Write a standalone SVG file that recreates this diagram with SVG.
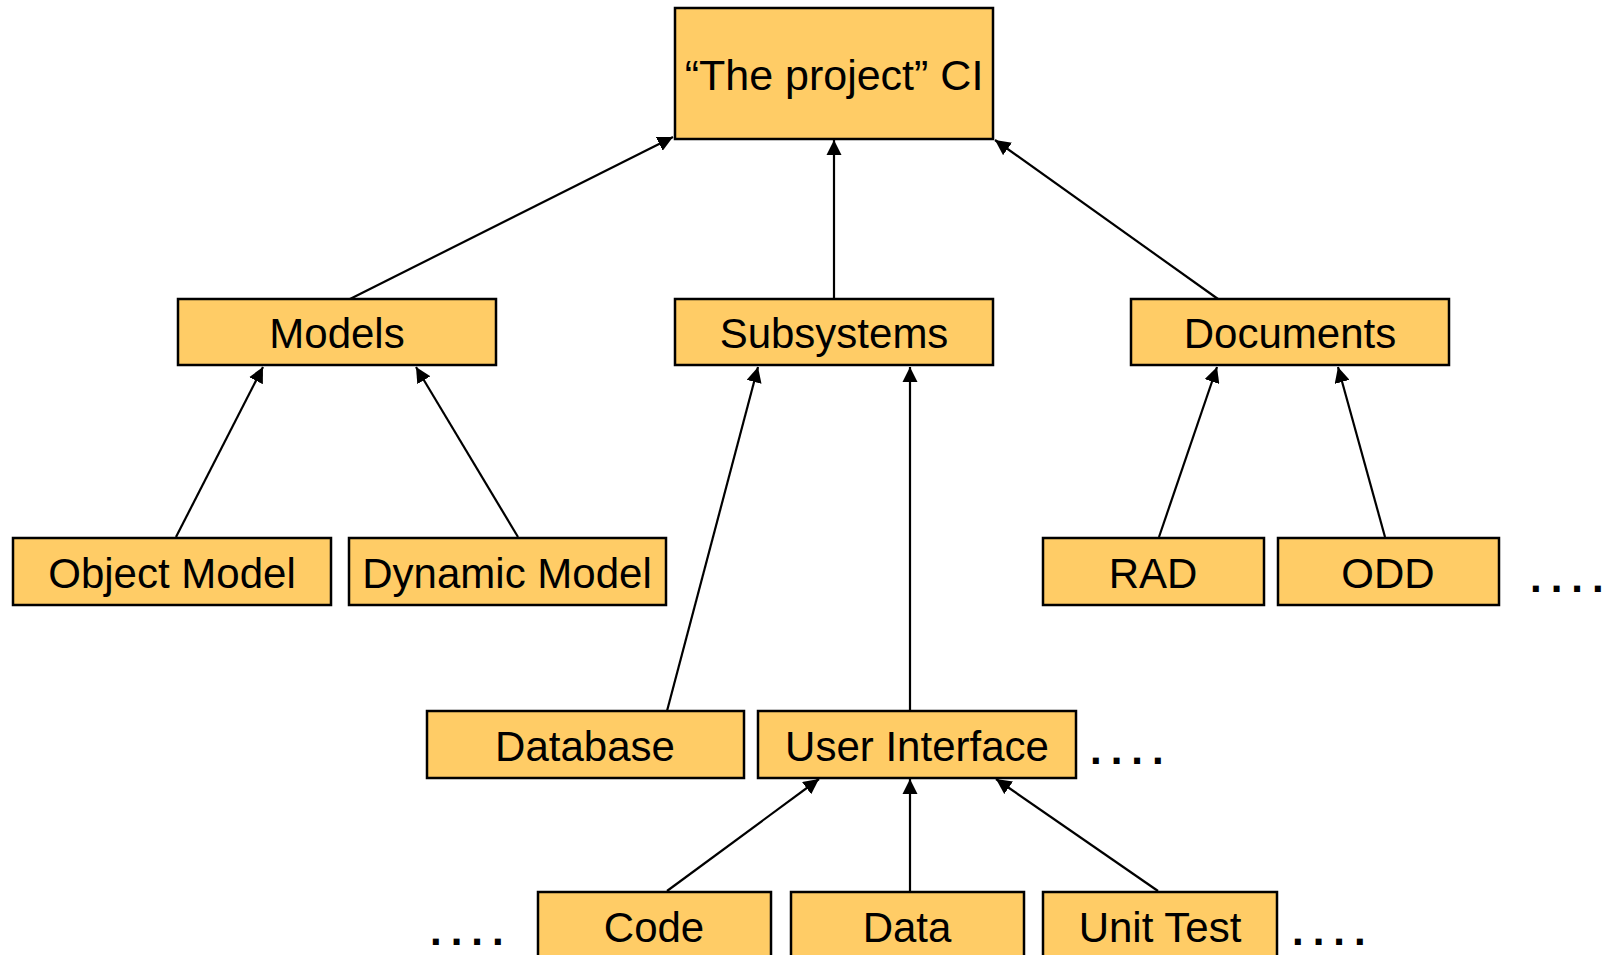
<svg xmlns="http://www.w3.org/2000/svg" width="1614" height="955" viewBox="0 0 1614 955">
  <style>
    .box { fill: #FFCC66; stroke: #000; stroke-width: 2.5; }
    .lbl { font-family: "Liberation Sans", Arial, sans-serif; font-size: 42px; fill: #000; text-anchor: middle; }
    .big { font-size: 43px; }
    .dots { font-family: "Liberation Sans", Arial, sans-serif; font-size: 42px; font-weight: bold; fill: #000; letter-spacing: 9px; }
    .edge { stroke: #000; stroke-width: 2.2; fill: none; marker-end: url(#arrow); }
  </style>
  <defs>
    <marker id="arrow" viewBox="0 0 10 10" refX="10" refY="5" markerWidth="7" markerHeight="7" orient="auto" markerUnits="strokeWidth">
      <path d="M0,0 L10,5 L0,10 Z" fill="#000"/>
    </marker>
  </defs>

  <rect width="1614" height="955" fill="#fff"/>

  <!-- connectors: child points up to its parent -->
  <g id="connectors">
    <line class="edge" x1="350" y1="299" x2="673" y2="137"/>
    <line class="edge" x1="834" y1="299" x2="834" y2="140"/>
    <line class="edge" x1="1218" y1="299" x2="995" y2="140"/>
    <line class="edge" x1="176" y1="537" x2="263" y2="367"/>
    <line class="edge" x1="518" y1="537" x2="416" y2="367"/>
    <line class="edge" x1="667" y1="711" x2="758" y2="367"/>
    <line class="edge" x1="910" y1="711" x2="910" y2="367"/>
    <line class="edge" x1="1159" y1="537" x2="1217" y2="367"/>
    <line class="edge" x1="1385" y1="537" x2="1338" y2="367"/>
    <line class="edge" x1="667" y1="891" x2="819" y2="779"/>
    <line class="edge" x1="910" y1="891" x2="910" y2="779"/>
    <line class="edge" x1="1158" y1="891" x2="996" y2="779"/>
  </g>

  <g id="project">
    <rect class="box" x="675" y="8" width="318" height="131"/>
    <text class="lbl big" x="834" y="90">“The project” CI</text>
  </g>

  <g id="models">
    <rect class="box" x="178" y="299" width="318" height="66"/>
    <text class="lbl" x="337" y="348">Models</text>
  </g>
  <g id="subsystems">
    <rect class="box" x="675" y="299" width="318" height="66"/>
    <text class="lbl" x="834" y="348">Subsystems</text>
  </g>
  <g id="documents">
    <rect class="box" x="1131" y="299" width="318" height="66"/>
    <text class="lbl" x="1290" y="348">Documents</text>
  </g>

  <g id="object-model">
    <rect class="box" x="13" y="538" width="318" height="67"/>
    <text class="lbl" x="172" y="588">Object Model</text>
  </g>
  <g id="dynamic-model">
    <rect class="box" x="349" y="538" width="317" height="67"/>
    <text class="lbl" x="507" y="588">Dynamic Model</text>
  </g>
  <g id="rad">
    <rect class="box" x="1043" y="538" width="221" height="67"/>
    <text class="lbl" x="1153" y="588">RAD</text>
  </g>
  <g id="odd">
    <rect class="box" x="1278" y="538" width="221" height="67"/>
    <text class="lbl" x="1388" y="588">ODD</text>
  </g>
  <text class="dots" x="1530" y="592">....</text>

  <g id="database">
    <rect class="box" x="427" y="711" width="317" height="67"/>
    <text class="lbl" x="585" y="761">Database</text>
  </g>
  <g id="user-interface">
    <rect class="box" x="758" y="711" width="318" height="67"/>
    <text class="lbl" x="917" y="761">User Interface</text>
  </g>
  <text class="dots" x="1090" y="764">....</text>

  <g id="code">
    <rect class="box" x="538" y="892" width="233" height="80"/>
    <text class="lbl" x="654" y="942">Code</text>
  </g>
  <g id="data">
    <rect class="box" x="791" y="892" width="233" height="80"/>
    <text class="lbl" x="907" y="942">Data</text>
  </g>
  <g id="unit-test">
    <rect class="box" x="1043" y="892" width="234" height="80"/>
    <text class="lbl" x="1160" y="942">Unit Test</text>
  </g>
  <text class="dots" x="430" y="945">....</text>
  <text class="dots" x="1292" y="945">....</text>
</svg>
